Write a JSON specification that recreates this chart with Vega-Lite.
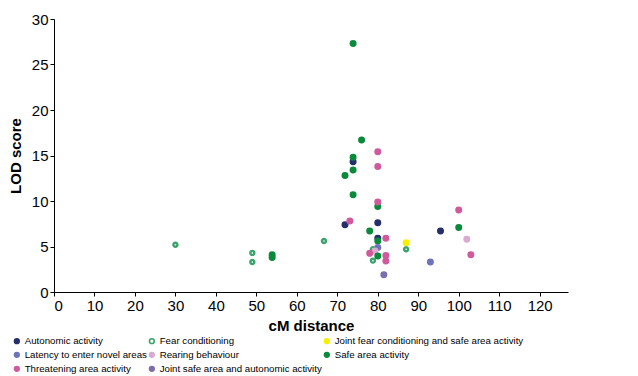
{
  "$schema": "https://vega.github.io/schema/vega-lite/v6.json",
  "width": 514,
  "height": 273,
  "autosize": {"type": "none"},
  "padding": {"left": 54, "top": 19, "right": 70, "bottom": 84},
  "background": "white",
  "config": {
    "view": {"stroke": null},
    "font": "Liberation Sans",
    "axis": {
      "grid": false,
      "domainColor": "#000",
      "domainWidth": 1,
      "tickColor": "#000",
      "tickSize": 4,
      "labelColor": "#000",
      "labelFontSize": 15,
      "labelFont": "Liberation Sans",
      "titleFont": "Liberation Sans",
      "titleFontSize": 15,
      "titleFontWeight": "bold",
      "titleColor": "#000"
    },
    "legend": {
      "orient": "none",
      "direction": "horizontal",
      "legendX": -42,
      "legendY": 317,
      "columns": 3,
      "columnPadding": -2,
      "rowPadding": 2,
      "labelFontSize": 9.7,
      "labelLimit": 400,
      "labelFont": "Liberation Sans",
      "labelColor": "#000",
      "symbolSize": 22,
      "symbolStrokeWidth": 1.6,
      "labelOffset": 3,
      "padding": 0,
      "title": null
    }
  },
  "data": {
    "values": [
      {"cM": 30, "LOD": 5.2, "trait": "Fear conditioning"},
      {"cM": 49, "LOD": 4.3, "trait": "Fear conditioning"},
      {"cM": 49, "LOD": 3.3, "trait": "Fear conditioning"},
      {"cM": 66.7, "LOD": 5.6, "trait": "Fear conditioning"},
      {"cM": 78.8, "LOD": 4.7, "trait": "Fear conditioning"},
      {"cM": 78.8, "LOD": 3.45, "trait": "Fear conditioning"},
      {"cM": 87, "LOD": 4.7, "trait": "Fear conditioning"},
      {"cM": 53.9, "LOD": 4.1, "trait": "Safe area activity"},
      {"cM": 53.9, "LOD": 3.8, "trait": "Safe area activity"},
      {"cM": 73.9, "LOD": 27.3, "trait": "Safe area activity"},
      {"cM": 76, "LOD": 16.7, "trait": "Safe area activity"},
      {"cM": 73.9, "LOD": 13.4, "trait": "Safe area activity"},
      {"cM": 71.9, "LOD": 12.8, "trait": "Safe area activity"},
      {"cM": 73.9, "LOD": 10.7, "trait": "Safe area activity"},
      {"cM": 80, "LOD": 9.4, "trait": "Safe area activity"},
      {"cM": 78, "LOD": 6.7, "trait": "Safe area activity"},
      {"cM": 100, "LOD": 7.1, "trait": "Safe area activity"},
      {"cM": 73.9, "LOD": 14.3, "trait": "Autonomic activity"},
      {"cM": 73.9, "LOD": 14.8, "trait": "Safe area activity"},
      {"cM": 71.9, "LOD": 7.4, "trait": "Autonomic activity"},
      {"cM": 80, "LOD": 7.6, "trait": "Autonomic activity"},
      {"cM": 95.5, "LOD": 6.7, "trait": "Autonomic activity"},
      {"cM": 80, "LOD": 5.9, "trait": "Autonomic activity"},
      {"cM": 80, "LOD": 5.6, "trait": "Safe area activity"},
      {"cM": 80, "LOD": 15.4, "trait": "Threatening area activity"},
      {"cM": 80, "LOD": 13.8, "trait": "Threatening area activity"},
      {"cM": 80, "LOD": 9.9, "trait": "Threatening area activity"},
      {"cM": 73.1, "LOD": 7.8, "trait": "Threatening area activity"},
      {"cM": 82, "LOD": 5.9, "trait": "Threatening area activity"},
      {"cM": 100, "LOD": 9.0, "trait": "Threatening area activity"},
      {"cM": 103, "LOD": 4.1, "trait": "Threatening area activity"},
      {"cM": 80, "LOD": 4.9, "trait": "Latency to enter novel areas"},
      {"cM": 93, "LOD": 3.3, "trait": "Latency to enter novel areas"},
      {"cM": 79.3, "LOD": 4.5, "trait": "Rearing behaviour"},
      {"cM": 102, "LOD": 5.8, "trait": "Rearing behaviour"},
      {"cM": 78, "LOD": 4.25, "trait": "Threatening area activity"},
      {"cM": 80, "LOD": 3.95, "trait": "Safe area activity"},
      {"cM": 82, "LOD": 4.0, "trait": "Threatening area activity"},
      {"cM": 82, "LOD": 3.4, "trait": "Threatening area activity"},
      {"cM": 87, "LOD": 5.4, "trait": "Joint fear conditioning and safe area activity"},
      {"cM": 81.5, "LOD": 1.9, "trait": "Joint safe area and autonomic activity"}
    ]
  },
  "mark": {"type": "point", "filled": true, "opacity": 1},
  "encoding": {
    "x": {
      "field": "cM", "type": "quantitative",
      "title": "cM distance",
      "scale": {"domain": [0, 127], "nice": false, "zero": true},
      "axis": {"values": [0,10,20,30,40,50,60,70,80,90,100,110,120], "labelPadding": 2, "titlePadding": 5}
    },
    "y": {
      "field": "LOD", "type": "quantitative",
      "title": "LOD score",
      "scale": {"domain": [0, 30], "nice": false},
      "axis": {"values": [0,5,10,15,20,25,30], "labelPadding": 2, "titlePadding": 8}
    },
    "size": {"condition": {"test": "datum.trait === 'Fear conditioning'", "value": 16}, "value": 28},
    "strokeWidth": {"condition": {"test": "datum.trait === 'Fear conditioning'", "value": 2.4}, "value": 1.7},
    "fill": {
      "field": "trait", "type": "nominal",
      "scale": {
        "domain": ["Autonomic activity", "Fear conditioning", "Joint fear conditioning and safe area activity", "Latency to enter novel areas", "Rearing behaviour", "Safe area activity", "Threatening area activity", "Joint safe area and autonomic activity"],
        "range": ["#262f6b", "#ffffff", "#f5f000", "#6e74b9", "#d9abd1", "#0b8a3c", "#d05a9c", "#7c6fac"]
      },
      "legend": {"title": null}
    },
    "stroke": {
      "field": "trait", "type": "nominal",
      "scale": {
        "domain": ["Autonomic activity", "Fear conditioning", "Joint fear conditioning and safe area activity", "Latency to enter novel areas", "Rearing behaviour", "Safe area activity", "Threatening area activity", "Joint safe area and autonomic activity"],
        "range": ["#262f6b", "#3aa36b", "#f5f000", "#6e74b9", "#d9abd1", "#0b8a3c", "#d05a9c", "#7c6fac"]
      },
      "legend": {"title": null}
    }
  }
}
